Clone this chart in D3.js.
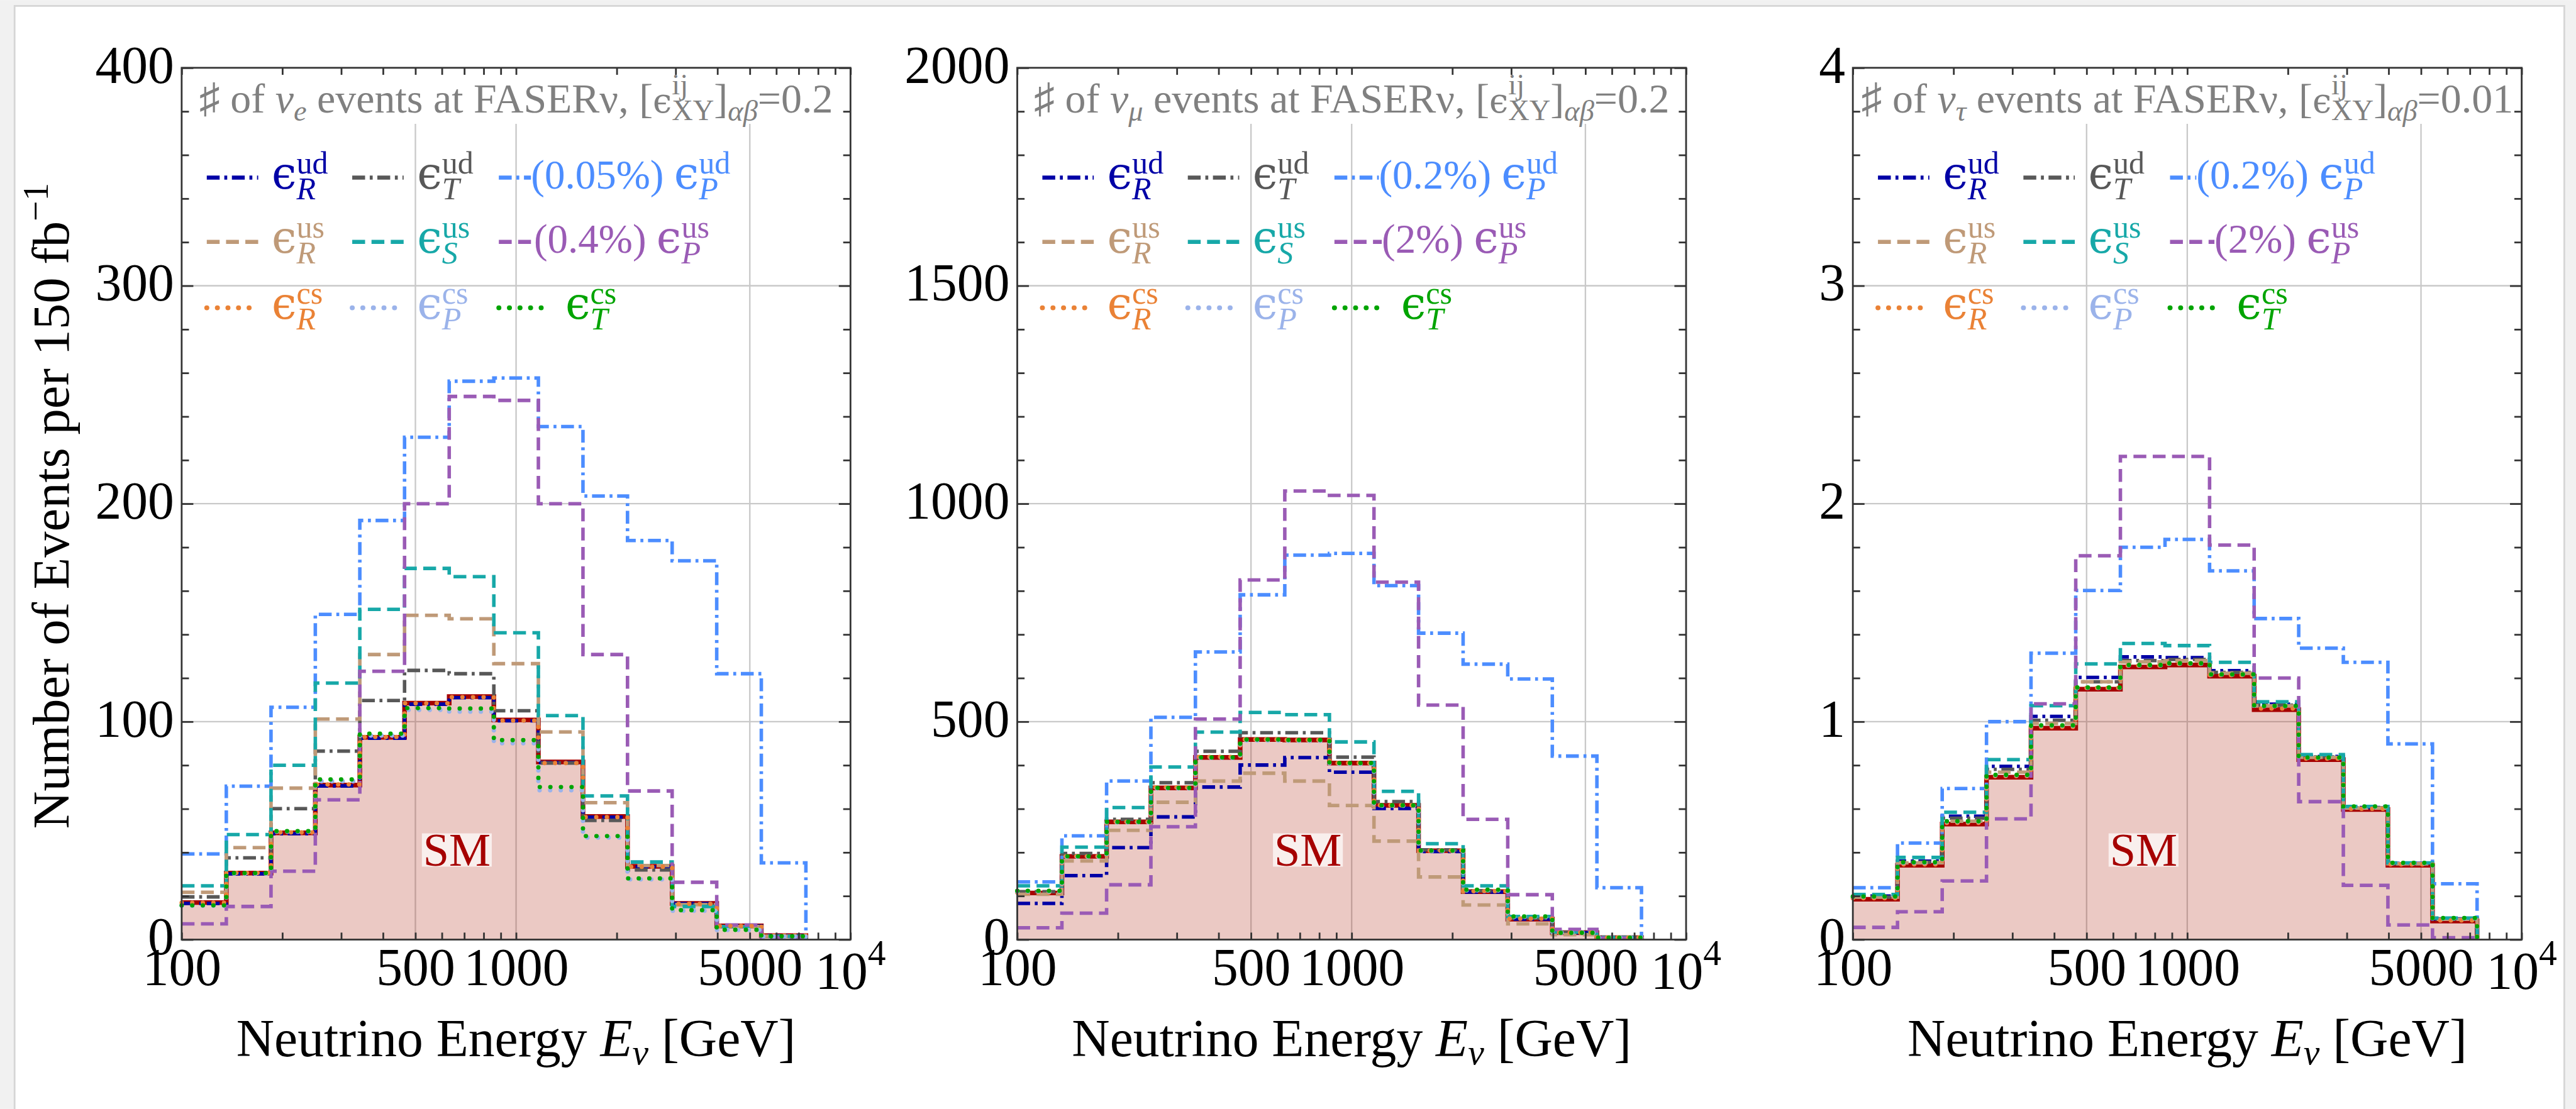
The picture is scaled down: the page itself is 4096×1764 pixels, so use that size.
<!DOCTYPE html>
<html>
<head>
<meta charset="utf-8">
<title>FASERnu event spectra</title>
<script src="https://cdn.jsdelivr.net/npm/d3@7/dist/d3.min.js"></script>
<style>
  html, body { margin: 0; padding: 0; background: #fff; overflow: hidden; }
  svg { display: block; }
</style>
</head>
<body>
<div id="chart"></div>
<script>
// energy bin edges [GeV], same for all three panels
const binEdges = [100, 136, 185, 251, 341, 464, 631, 858, 1166, 1585, 2154, 2929, 3981, 5412, 7356];

// nu_e events at FASERnu, eps = 0.2
const nueSM  = [17.0, 30.5, 49.0, 70.9, 92.8, 108.5, 111.5, 100.8, 81.5, 56.5, 33.6, 16.6, 6.3, 1.8];
const nueRud = [16.6, 30.2, 48.6, 70.5, 92.4, 108.0, 111.0, 100.4, 81.2, 56.2, 33.4, 16.5, 6.2, 1.8];
const nueTud = [19.6, 37.5, 60.1, 86.5, 109.7, 123.5, 122.0, 105.0, 81.0, 54.7, 32.0, 16.0, 6.0, 1.6];
const nuePud = [39.3, 70.4, 106.6, 149.2, 192.3, 230.5, 256.2, 257.7, 235.4, 203.5, 183.1, 173.8, 122.0, 35.2];
const nueRus = [21.7, 42.2, 69.5, 101.2, 130.8, 148.8, 147.2, 126.6, 95.3, 62.8, 34.0, 16.0, 6.0, 1.6];
const nueSus = [24.7, 48.2, 80.0, 117.7, 151.5, 170.3, 166.5, 140.8, 102.8, 65.9, 35.6, 15.2, 6.0, 1.5];
const nuePus = [7.2, 15.2, 31.4, 64.1, 123.1, 200.0, 249.2, 247.4, 200.0, 130.8, 68.2, 26.3, 6.7, 0.9];
const nueRcs = [16.9, 30.6, 49.2, 71.2, 93.0, 108.4, 111.2, 100.5, 81.0, 56.2, 33.4, 16.4, 6.2, 1.8];
const nuePcs = [15.5, 30.2, 49.5, 72.6, 93.6, 105.4, 104.6, 90.1, 68.5, 46.8, 27.6, 13.2, 4.4, 1.4];
const nueTcs = [15.7, 30.5, 49.8, 73.5, 94.5, 106.2, 106.0, 91.5, 70.0, 47.5, 28.1, 13.5, 4.5, 1.5];

// nu_mu events, eps = 0.2
const numSM  = [107, 191, 270, 348, 418, 459, 458, 405, 308, 204, 110, 47, 16, 4.5];
const numRud = [83, 146.8, 211, 281.5, 350, 400.5, 417.6, 384, 301, 202, 109, 47, 16, 4.5];
const numTud = [110, 197.6, 276, 360, 432, 474.6, 474.6, 418.5, 316.6, 206, 112, 49, 16.5, 4.6];
const numPud = [132.5, 238, 364, 510, 660, 791, 882, 886, 812, 703, 632, 598, 421, 119];
const numRus = [104, 180.5, 250.6, 315, 363.7, 381.7, 363.7, 307.6, 226, 143.7, 79.5, 36, 11.2, 3];
const numSus = [123.5, 212, 303, 396, 476, 521, 516, 453.5, 340, 220, 123.5, 53, 17.5, 5];
const numPus = [27, 60.6, 125.7, 259, 506, 825, 1029, 1019, 820, 538, 276, 103, 23.3, 3.6];
const numRcs = [108, 191, 270, 349, 419, 459, 458, 405, 308, 204, 111, 48, 16, 4.5];
const numPcs = [110, 190, 269, 347, 417, 457, 456, 403, 307, 203, 113, 52, 15.5, 4.4];
const numTcs = [112, 191, 270, 348, 418, 459, 458, 405, 308, 204, 114.5, 53, 15.7, 4.5];

// nu_tau events, eps = 0.01
const nutSM  = [0.185, 0.341, 0.53, 0.745, 0.97, 1.149, 1.251, 1.26, 1.209, 1.055, 0.826, 0.597, 0.341, 0.085];
const nutRud = [0.2, 0.36, 0.566, 0.795, 1.024, 1.203, 1.297, 1.294, 1.234, 1.08, 0.84, 0.606, 0.35, 0.095];
const nutTud = [0.195, 0.355, 0.557, 0.781, 1.006, 1.183, 1.28, 1.285, 1.226, 1.075, 0.838, 0.604, 0.348, 0.093];
const nutPud = [0.238, 0.443, 0.693, 1.0, 1.314, 1.602, 1.80, 1.836, 1.692, 1.473, 1.337, 1.272, 0.898, 0.256];
const nutRus = [0.195, 0.352, 0.543, 0.768, 0.992, 1.183, 1.274, 1.28, 1.222, 1.072, 0.836, 0.603, 0.348, 0.093];
const nutSus = [0.207, 0.377, 0.584, 0.826, 1.073, 1.265, 1.359, 1.349, 1.272, 1.091, 0.849, 0.611, 0.352, 0.099];
const nutPus = [0.056, 0.128, 0.269, 0.554, 1.082, 1.761, 2.217, 2.217, 1.81, 1.2, 0.633, 0.249, 0.067, 0.009];
const nutRcs = [0.19, 0.345, 0.535, 0.75, 0.975, 1.155, 1.257, 1.265, 1.213, 1.06, 0.83, 0.6, 0.345, 0.088];
const nutPcs = [0.196, 0.352, 0.541, 0.754, 0.981, 1.155, 1.258, 1.266, 1.215, 1.07, 0.834, 0.609, 0.35, 0.097];
const nutTcs = [0.198, 0.355, 0.543, 0.756, 0.983, 1.157, 1.26, 1.268, 1.217, 1.072, 0.835, 0.611, 0.352, 0.099];

// axis ticks
const xMajorTicks = [100, 500, 1000, 5000];
const xMinorTicks = [200, 300, 400, 600, 700, 800, 900, 2000, 3000, 4000, 6000, 7000, 8000, 9000];
const xGridLines = [500, 1000, 5000];

const panels = [
  { flavor: "e", eps: "0.2", yMax: 400, yStep: 100, yMinor: 20, smAt: 665, tagPud: "(0.05%)", tagPus: "(0.4%)",
    data: { SM: nueSM, Rud: nueRud, Tud: nueTud, Pud: nuePud, Rus: nueRus, Sus: nueSus, Pus: nuePus, Rcs: nueRcs, Pcs: nuePcs, Tcs: nueTcs } },
  { flavor: "μ", eps: "0.2", yMax: 2000, yStep: 500, yMinor: 100, smAt: 740, tagPud: "(0.2%)", tagPus: "(2%)",
    data: { SM: numSM, Rud: numRud, Tud: numTud, Pud: numPud, Rus: numRus, Sus: numSus, Pus: numPus, Rcs: numRcs, Pcs: numPcs, Tcs: numTcs } },
  { flavor: "τ", eps: "0.01", yMax: 4, yStep: 1, yMinor: 0.2, smAt: 740, tagPud: "(0.2%)", tagPus: "(2%)",
    data: { SM: nutSM, Rud: nutRud, Tud: nutTud, Pud: nutPud, Rus: nutRus, Sus: nutSus, Pus: nutPus, Rcs: nutRcs, Pcs: nutPcs, Tcs: nutTcs } }
];

const seriesOrder = ["Rud", "Tud", "Pud", "Rus", "Sus", "Pus", "Rcs", "Pcs", "Tcs"];
const seriesInfo = {
  Rud: { color: "#0000a6", style: "dotdash", letter: "R", sup: "ud" },
  Tud: { color: "#585858", style: "dotdash", letter: "T", sup: "ud" },
  Pud: { color: "#4c8dff", style: "dotdash", letter: "P", sup: "ud" },
  Rus: { color: "#bf9a78", style: "dashed",  letter: "R", sup: "us" },
  Sus: { color: "#17a8a8", style: "dashed",  letter: "S", sup: "us" },
  Pus: { color: "#9a5bb5", style: "dashed",  letter: "P", sup: "us" },
  Rcs: { color: "#ea8236", style: "dotted",  letter: "R", sup: "cs" },
  Pcs: { color: "#9bb3ea", style: "dotted",  letter: "P", sup: "cs" },
  Tcs: { color: "#00a400", style: "dotted",  letter: "T", sup: "cs" }
};
const lineStyles = {
  dotdash: { dash: "22,8,5,8", width: 6, cap: "butt" },
  dashed:  { dash: "22,11", width: 6, cap: "butt" },
  dotted:  { dash: "0.1,18", width: 7.5, cap: "round" }
};

const SERIF = "'Liberation Serif','Times New Roman',serif";
const EPSF = "'DejaVu Serif',serif";

// layout, in the reference's pixel units (viewBox scales it to the window)
const W = 4410, H = 1899;
const panelLeft = [311, 1741.5, 3172];
const panelW = 1145, plotTop = 116, plotBottom = 1609;
const legendRows = [["Rud", "Tud", "Pud"], ["Rus", "Sus", "Pus"], ["Rcs", "Pcs", "Tcs"]];
const legendRowY = [304, 414, 527];
const legendColX = [43, 292, 543];
const tagX = [[598, 603], [619, 624], [588, 619]];

const svg = d3.select("#chart").append("svg")
  .attr("width", 4096).attr("height", 1764)
  .attr("viewBox", `0 0 ${W} ${H}`);

svg.append("rect").attr("width", W).attr("height", H).attr("fill", "#f1f1f1");
svg.append("rect").attr("x", 25).attr("y", 10).attr("width", 4365).attr("height", H)
  .attr("fill", "#fff").attr("stroke", "#d6d6d6").attr("stroke-width", 3);

// writes a row of text pieces; a piece with stack:true shares its x with the next one
function richText(g, x, y, parts, color) {
  let cx = x, held = 0;
  parts.forEach(p => {
    const t = g.append("text")
      .attr("xml:space", "preserve")
      .attr("x", cx)
      .attr("y", y + (p.dy || 0))
      .attr("fill", color)
      .attr("font-family", p.fam || SERIF)
      .attr("font-size", p.fs)
      .attr("font-style", p.it ? "italic" : null)
      .text(p.t);
    const w = t.node().getComputedTextLength();
    if (p.stack) held = Math.max(held, w);
    else { cx += Math.max(w, held); held = 0; }
  });
  return cx - x;
}

panels.forEach((p, pi) => {
  const x0 = panelLeft[pi], x1 = x0 + panelW, xc = (x0 + x1) / 2;
  const x = d3.scaleLog().domain([100, 10000]).range([x0, x1]);
  const y = d3.scaleLinear().domain([0, p.yMax]).range([plotBottom, plotTop]);
  const g = svg.append("g");

  const yMajor = d3.range(0, p.yMax + p.yStep / 2, p.yStep);
  const yMinor = d3.range(0, p.yMax + 1e-9, p.yMinor)
    .filter(v => Math.abs(v / p.yStep - Math.round(v / p.yStep)) > 1e-6);

  // grid
  g.append("g").selectAll("line").data(xGridLines).join("line")
    .attr("x1", d => x(d)).attr("x2", d => x(d))
    .attr("y1", plotTop).attr("y2", plotBottom)
    .attr("stroke", "#c9c9c9").attr("stroke-width", 2.5);
  g.append("g").selectAll("line").data(yMajor.slice(1, -1)).join("line")
    .attr("x1", x0).attr("x2", x1)
    .attr("y1", d => y(d)).attr("y2", d => y(d))
    .attr("stroke", "#c9c9c9").attr("stroke-width", 2.5);

  // title with white box behind it
  const titleBox = g.append("rect").attr("fill", "#fff");
  const tg = g.append("g");
  const tw = richText(tg, 0, 0, [
    { t: "♯ of ", fs: 71 },
    { t: "ν", fs: 71, it: true },
    { t: p.flavor, fs: 50, it: true, dy: 14 },
    { t: " events at FASERν, [", fs: 71 },
    { t: "ϵ", fs: 58, fam: EPSF },
    { t: "ij", fs: 50, dy: -32, stack: true },
    { t: "XY", fs: 50, dy: 13 },
    { t: "]", fs: 71 },
    { t: "αβ", fs: 50, it: true, dy: 14 },
    { t: "=" + p.eps, fs: 71 }
  ], "#808080");
  tg.attr("transform", `translate(${xc - tw / 2},193)`);
  titleBox.attr("x", xc - tw / 2 - 5).attr("width", tw + 10)
    .attr("y", plotTop + 3).attr("height", 212 - plotTop - 3);

  // histograms
  const pts = d => binEdges.map((e, i) => [e, i < d.length ? d[i] : 0]);
  const line = d3.line().x(d => x(d[0])).y(d => y(d[1])).curve(d3.curveStepAfter);
  const area = d3.area().x(d => x(d[0])).y0(y(0)).y1(d => y(d[1])).curve(d3.curveStepAfter);

  g.append("path").attr("d", area(pts(p.data.SM)))
    .attr("fill", "rgb(170,30,10)").attr("fill-opacity", 0.24);
  g.append("path").attr("d", line(pts(p.data.SM)))
    .attr("fill", "none").attr("stroke", "#a60000").attr("stroke-width", 8);

  seriesOrder.forEach(k => {
    const s = seriesInfo[k], ls = lineStyles[s.style];
    g.append("path").attr("d", line(pts(p.data[k])))
      .attr("fill", "none").attr("stroke", s.color)
      .attr("stroke-width", ls.width).attr("stroke-dasharray", ls.dash)
      .attr("stroke-linecap", ls.cap);
  });

  // SM tag
  const smBox = g.append("rect").attr("fill", "#fff").attr("fill-opacity", 0.7);
  const smText = g.append("text")
    .attr("x", x(p.smAt)).attr("y", y(p.yMax * 0.085))
    .attr("text-anchor", "middle")
    .attr("font-family", SERIF).attr("font-size", 80).attr("fill", "#a60000")
    .text("SM");
  const bb = smText.node().getBBox();
  smBox.attr("x", bb.x - 2).attr("width", bb.width + 4)
    .attr("y", y(p.yMax * 0.085) - 55).attr("height", 57);

  // legend
  legendRows.forEach((row, ri) => {
    const ly = legendRowY[ri];
    row.forEach((k, ci) => {
      const s = seriesInfo[k], ls = lineStyles[s.style];
      const sx0 = x0 + legendColX[ci];
      let sx1, tx;
      if (ci < 2) { sx1 = sx0 + 88; tx = sx0 + 111; }
      else if (ri < 2) { tx = x0 + tagX[pi][ri]; sx1 = tx; }
      else { sx1 = sx0 + 81; tx = sx0 + 114; }
      g.append("line").attr("x1", sx0).attr("x2", sx1).attr("y1", ly).attr("y2", ly)
        .attr("stroke", s.color).attr("stroke-width", ls.width + 1)
        .attr("stroke-dasharray", ls.dash).attr("stroke-linecap", ls.cap);
      const parts = [];
      if (ci === 2 && ri < 2) parts.push({ t: (ri === 0 ? p.tagPud : p.tagPus) + " ", fs: 70 });
      parts.push(
        { t: "ϵ", fs: 76, fam: EPSF },
        { t: s.sup, fs: 54, dy: -26, stack: true },
        { t: s.letter, fs: 54, it: true, dy: 18 }
      );
      richText(g, tx, ly + 19, parts, s.color);
    });
  });

  // frame and inward ticks
  g.append("rect").attr("x", x0).attr("y", plotTop)
    .attr("width", panelW).attr("height", plotBottom - plotTop)
    .attr("fill", "none").attr("stroke", "#333").attr("stroke-width", 3);

  const ticks = (axis, tx, ty) => g.append("g")
    .attr("transform", `translate(${tx},${ty})`)
    .call(axis)
    .call(a => a.select(".domain").remove())
    .call(a => a.selectAll("line").attr("stroke", "#333").attr("stroke-width", 3));
  const xAll = xMajorTicks.concat(xMinorTicks, [10000]);
  ticks(d3.axisBottom(x).tickValues(xAll).tickSize(-12).tickFormat(""), 0, plotBottom);
  ticks(d3.axisTop(x).tickValues(xAll).tickSize(-12).tickFormat(""), 0, plotTop);
  ticks(d3.axisLeft(y).tickValues(yMajor).tickSize(-20).tickFormat(""), x0, 0);
  ticks(d3.axisLeft(y).tickValues(yMinor).tickSize(-12.5).tickFormat(""), x0, 0);
  ticks(d3.axisRight(y).tickValues(yMajor).tickSize(-20).tickFormat(""), x1, 0);
  ticks(d3.axisRight(y).tickValues(yMinor).tickSize(-12.5).tickFormat(""), x1, 0);

  // tick labels
  g.append("g").attr("transform", `translate(${x0},0)`)
    .call(d3.axisLeft(y).tickValues(yMajor).tickSize(0).tickPadding(13).tickFormat(d3.format("d")))
    .call(a => a.select(".domain").remove())
    .call(a => a.selectAll("text").attr("font-family", SERIF).attr("font-size", 90)
      .attr("fill", "#000").attr("dy", null).attr("y", 25));
  g.append("g").attr("transform", `translate(0,${plotBottom})`)
    .call(d3.axisBottom(x).tickValues(xMajorTicks).tickSize(0).tickFormat(d3.format("d")))
    .call(a => a.select(".domain").remove())
    .call(a => a.selectAll("text").attr("font-family", SERIF).attr("font-size", 90)
      .attr("fill", "#000").attr("dy", null).attr("y", 78));
  const t4 = g.append("text").attr("x", x(10000)).attr("y", plotBottom + 84)
    .attr("text-anchor", "middle").attr("font-family", SERIF).attr("font-size", 90).text("10");
  t4.append("tspan").attr("font-size", 62).attr("dy", -40).text("4");

  // x axis title
  const xg = g.append("g");
  const xw = richText(xg, 0, 0, [
    { t: "Neutrino Energy ", fs: 90 },
    { t: "E", fs: 90, it: true },
    { t: "ν", fs: 62, it: true, dy: 14 },
    { t: " [GeV]", fs: 90 }
  ], "#000");
  xg.attr("transform", `translate(${xc - xw / 2},1809)`);
});

// y axis title (left panel only)
const yg = svg.append("g").attr("transform", "translate(117,866) rotate(-90)");
const yi = yg.append("g");
const yw = richText(yi, 0, 0, [
  { t: "Number of Events per 150 fb", fs: 89 },
  { t: "−1", fs: 62, dy: -35 }
], "#000");
yi.attr("transform", `translate(${-yw / 2},0)`);
</script>
</body>
</html>
